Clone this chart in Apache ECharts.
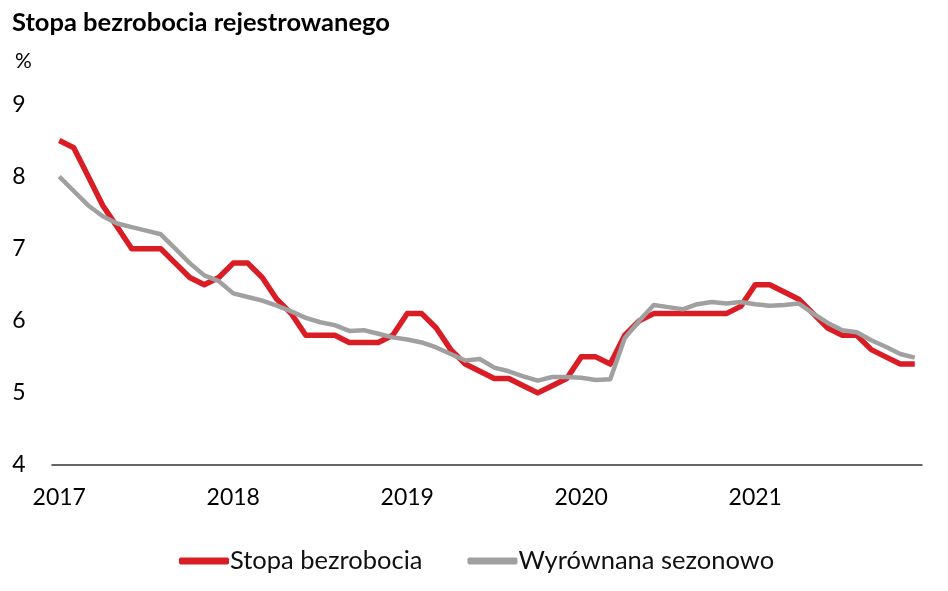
<!DOCTYPE html>
<html style="height: 100%">
<head>
<meta charset="utf-8">
<script src="https://cdn.jsdelivr.net/npm/echarts@6/dist/echarts.min.js"></script>
</head>
<body style="height: 100%; margin: 0; background: #fff">
<div id="container" style="width: 948px; height: 591px"></div>
<script type="text/javascript">
var years = ['2017', '2018', '2019', '2020', '2021'];
var months = [];
years.forEach(function (y) {
	for (var m = 1; m <= 12; m++) months.push(y + '-' + (m < 10 ? '0' + m : m));
});

// stopa bezrobocia rejestrowanego, %
var stopa = [
	8.5, 8.4, 8.0, 7.6, 7.3, 7.0, 7.0, 7.0, 6.8, 6.6, 6.5, 6.6,
	6.8, 6.8, 6.6, 6.3, 6.1, 5.8, 5.8, 5.8, 5.7, 5.7, 5.7, 5.8,
	6.1, 6.1, 5.9, 5.6, 5.4, 5.3, 5.2, 5.2, 5.1, 5.0, 5.1, 5.2,
	5.5, 5.5, 5.4, 5.8, 6.0, 6.1, 6.1, 6.1, 6.1, 6.1, 6.1, 6.2,
	6.5, 6.5, 6.4, 6.3, 6.1, 5.9, 5.8, 5.8, 5.6, 5.5, 5.4, 5.4
];
// wyrównana sezonowo
var sezon = [
	8.0, 7.8, 7.6, 7.45, 7.35, 7.3, 7.25, 7.2, 7.0, 6.8, 6.63, 6.55,
	6.38, 6.33, 6.28, 6.21, 6.13, 6.04, 5.98, 5.94, 5.86, 5.87, 5.82, 5.77,
	5.74, 5.70, 5.63, 5.54, 5.45, 5.47, 5.35, 5.30, 5.23, 5.17, 5.22, 5.22,
	5.21, 5.18, 5.19, 5.76, 6.0, 6.22, 6.19, 6.16, 6.23, 6.26, 6.24, 6.26,
	6.23, 6.21, 6.22, 6.24, 6.1, 5.97, 5.87, 5.84, 5.73, 5.64, 5.54, 5.49
];
var yTicks = [4, 9, 1];

var font = 'Lato';
var chart = echarts.init(document.getElementById('container'));
chart.setOption({
	animation: false,
	title: [{
		text: 'Stopa bezrobocia rejestrowanego',
		left: 7,
		top: 5,
		textStyle: { fontFamily: font, fontWeight: 'bold', fontSize: 25.5, color: '#000' }
	}, {
		text: '%',
		left: 10,
		top: 46,
		textStyle: { fontFamily: font, fontWeight: 'normal', fontSize: 21, color: '#000' }
	}],
	legend: {
		top: 543,
		left: 174,
		itemGap: 45,
		itemWidth: 50,
		itemHeight: 7,
		icon: 'roundRect',
		textStyle: { fontFamily: font, fontSize: 25.5, color: '#111', padding: [0, 0, 0, -4] },
		data: ['Stopa bezrobocia', 'Wyrównana sezonowo']
	},
	grid: { left: 52, right: 26, top: 104.5, bottom: 126, containLabel: false },
	xAxis: {
		type: 'category',
		data: months,
		boundaryGap: true,
		axisLine: { lineStyle: { color: '#333', width: 1.5 } },
		axisTick: { show: false },
		axisLabel: {
			interval: 11,
			margin: 21,
			fontFamily: font,
			fontSize: 23,
			color: '#000',
			formatter: function (v) { return v.slice(0, 4); }
		},
		splitLine: { show: false }
	},
	yAxis: {
		type: 'value',
		min: yTicks[0],
		max: yTicks[1],
		interval: yTicks[2],
		axisLine: { show: false },
		axisTick: { show: false },
		splitLine: { show: false },
		axisLabel: { margin: 33, align: 'center', fontFamily: font, fontSize: 23, color: '#000' }
	},
	series: [{
		name: 'Stopa bezrobocia',
		type: 'line',
		data: stopa,
		symbol: 'none',
		z: 2,
		lineStyle: { color: '#DA1C24', width: 5.5, join: 'round' },
		itemStyle: { color: '#DA1C24' }
	}, {
		name: 'Wyrównana sezonowo',
		type: 'line',
		data: sezon,
		symbol: 'none',
		z: 3,
		lineStyle: { color: '#A0A0A0', width: 4.5, join: 'round' },
		itemStyle: { color: '#A0A0A0' }
	}]
});
</script>
</body>
</html>
